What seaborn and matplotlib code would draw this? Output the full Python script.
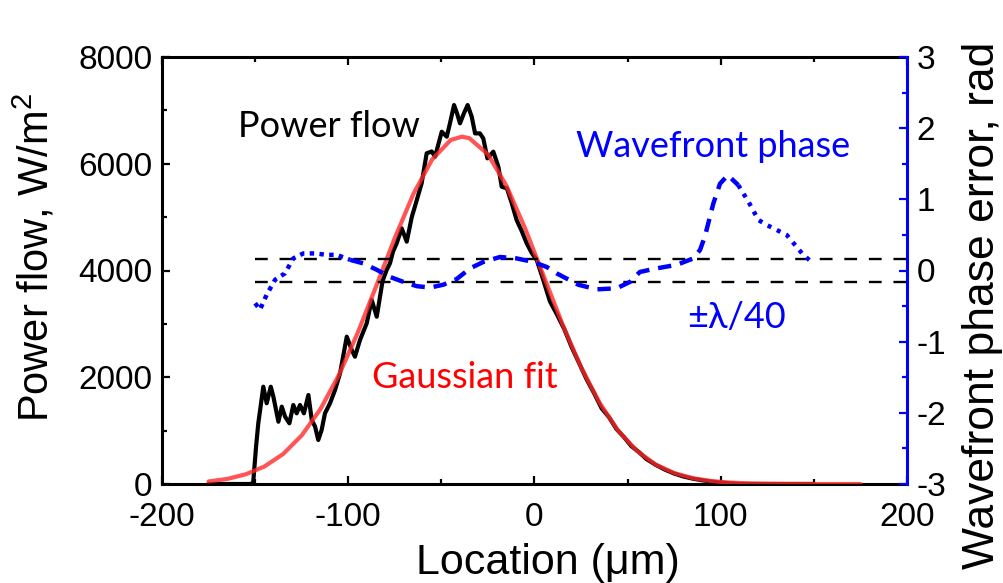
import numpy as np
import pandas as pd
import matplotlib
matplotlib.use("Agg")
import matplotlib.pyplot as plt
from matplotlib.ticker import MultipleLocator
import seaborn as sns

# ---------------- data ----------------
power_x = [-175, -160, -152, -151, -149.5, -148.3, -145.6, -143.8, -141.6, -140.2,
           -137.5, -135.7, -133.9, -131.6, -129.5, -127.7, -125.9, -123.8, -121.4,
           -119.6, -117.8, -116.1, -114.3, -112.5, -109.8, -107.1, -104.4, -100.8,
           -98.1, -96.4, -93.7, -90.1, -87.4, -84.7, -81.6, -79.4, -77.6, -76, -74,
           -71.3, -68.6, -65.9, -63.2, -60.6, -57.9, -55.2, -53.4, -49.8, -47.1,
           -45.4, -43.2, -41.6, -40, -37.9, -35.9, -33.7, -31.9, -29.3, -27.5,
           -25.3, -22.1, -19.4, -17.6, -14.8, -12.2, -9.6, -7, -4.2, -1.5, 1.2, 4,
           8.3, 12, 16, 20, 24, 28, 32, 36, 40, 44, 48, 52, 56, 60, 65, 70, 75, 80,
           85, 90, 95, 100, 110, 150]
power_y = [0, 0, 0, 40, 700, 1137, 1823, 1512, 1823, 1636,
           1167, 1449, 1261, 1137, 1480, 1324, 1480, 1324, 1667,
           1199, 1074, 824, 1011, 1324, 1512, 1761, 2074, 2760,
           2510, 2385, 2698, 3010, 3447, 3134, 3800, 4009, 4134, 4350, 4509,
           4790, 4540, 5000, 5320, 5633, 6195, 6230, 6132, 6600, 6507,
           6757, 7100, 6944, 6757, 6944, 7100, 6881, 6569, 6569, 6475,
           6101, 6226, 5944, 5570, 5538, 5258, 4946, 4750, 4510, 4330, 4196, 3900,
           3420, 3180, 2900, 2560, 2260, 1960, 1700, 1420, 1250, 1030, 880, 710, 600,
           470, 360, 270, 195, 140, 100, 70, 45, 25, 0, 0]

fit_x = [-175, -165, -155, -145, -135, -125, -115, -105, -95, -85, -75, -65, -55,
         -45, -39, -35, -25, -15, -5, 5, 15, 25, 35, 45, 55, 65, 75, 85, 95, 105,
         115, 125, 135, 145, 155, 165, 175]
fit_y = [48, 95, 182, 328, 561, 910, 1400, 2043, 2826, 3706, 4610, 5436, 6078,
         6445, 6507, 6479, 6177, 5583, 4785, 3889, 2996, 2189, 1517, 996, 621, 366,
         205, 109, 55, 26, 12, 5, 2, 1, 0, 0, 0]

phase_x = [-150, -147.4, -143.8, -139.3, -134, -129.5, -124.1, -117.8, -111.6, -106.2,
           -99, -91.9, -84.7, -77.6, -70.4, -63.2, -56.1, -49, -41.8, -34.6, -27.5,
           -18.5, -9.6, -0.6, 6.5, 11.9, 23.5, 33.4, 44.1, 51.3, 56.6, 65.6, 76.4,
           85.3, 88.9, 91.5, 96, 99.6, 103.8, 109.4, 114.8, 120.2, 124.7, 130, 135.4,
           140.8, 144.3, 148.8]
phase_y = [-0.46, -0.55, -0.34, -0.13, -0.04, 0.17, 0.24, 0.24, 0.22, 0.22,
           0.15, 0.10, 0.01, -0.09, -0.16, -0.22, -0.24, -0.20, -0.12, 0.03, 0.12,
           0.19, 0.17, 0.12, 0.05, -0.04, -0.20, -0.265, -0.25, -0.16, -0.02, 0.03, 0.08,
           0.17, 0.29, 0.48, 0.94, 1.22, 1.34, 1.20, 0.97, 0.71, 0.64, 0.57, 0.50,
           0.33, 0.22, 0.12]

tolerance_levels = [0.157, -0.157]     # +/- lambda/40 in rad
tolerance_span = [-150, 200]

x_ticks = [-200, -100, 0, 100, 200]
left_ticks = [0, 2000, 4000, 6000, 8000]
right_ticks = [-3, -2, -1, 0, 1, 2, 3]

# ---------------- style ----------------
sns.set_style("white")
plt.rcParams["font.family"] = ["Liberation Sans", "DejaVu Sans"]
plt.rcParams["mathtext.fontset"] = "custom"
plt.rcParams["mathtext.rm"] = "Liberation Sans"
plt.rcParams["mathtext.it"] = "Liberation Sans"
plt.rcParams["axes.unicode_minus"] = False
plt.rcParams["text.color"] = "black"
plt.rcParams["axes.labelcolor"] = "black"
plt.rcParams["xtick.color"] = "black"
plt.rcParams["ytick.color"] = "black"

fig = plt.figure(figsize=(10.04, 5.83), dpi=100)
ax = fig.add_axes([162 / 1004, 1 - 484 / 583, 745 / 1004, 427 / 583])
ax2 = ax.twinx()

BLUE = "#0000ff"

# power flow and fit
sns.lineplot(x=power_x, y=power_y, ax=ax, color="black", lw=3.0,
             estimator=None, sort=False, zorder=3)
sns.lineplot(x=fit_x, y=fit_y, ax=ax, color="#ff2a2a", lw=3.0, alpha=0.8,
             estimator=None, sort=False, zorder=4)

# tolerance lines (right axis units)
for lev in tolerance_levels:
    sns.lineplot(x=tolerance_span, y=[lev, lev], ax=ax2, color="black", lw=1.7,
                 linestyle=(0, (5.4, 5.0)), estimator=None, sort=False, zorder=2)

# wavefront phase: drawn with dash styles varying along the curve
px = np.array(phase_x)
py = np.array(phase_y)
segs = [(px <= -99, (0, (1.0, 1.2))),
        ((px >= -99) & (px <= 109.4), (0, (3.0, 2.0))),
        (px >= 109.4, (0, (0.9, 1.4)))]
for m, ls in segs:
    sns.lineplot(x=px[m], y=py[m], ax=ax2, color=BLUE, lw=3.2, linestyle=ls,
                 estimator=None, sort=False, zorder=3)

# ---------------- axes ----------------
ax.set_xlim(-200, 200)
ax.set_ylim(0, 8000)
ax2.set_ylim(-3, 3)
ax.set_xticks(x_ticks)
ax.set_yticks(left_ticks)
ax2.set_yticks(right_ticks)
ax.xaxis.set_minor_locator(MultipleLocator(50))
ax.yaxis.set_minor_locator(MultipleLocator(1000))
ax2.yaxis.set_minor_locator(MultipleLocator(0.5))

ax.tick_params(axis="both", which="both", direction="in", labelsize=24,
               width=1.6, colors="black")
ax.tick_params(axis="x", which="both", top=True, bottom=True)
ax.tick_params(axis="y", which="both", left=True, right=False)
ax.tick_params(which="major", length=6)
ax.tick_params(which="minor", length=3.5)
ax.tick_params(axis="y", pad=7)
ax.tick_params(axis="x", pad=13)
ax2.tick_params(axis="y", which="both", direction="in", color=BLUE, labelcolor="black",
                labelsize=24, width=1.6, pad=7)
ax2.tick_params(axis="y", which="major", length=6)
ax2.tick_params(axis="y", which="minor", length=3.5)

for s in ["left", "top", "bottom"]:
    ax.spines[s].set_linewidth(2.2)
    ax.spines[s].set_color("black")
ax.spines["right"].set_visible(False)
for s in ["left", "top", "bottom"]:
    ax2.spines[s].set_visible(False)
ax2.spines["right"].set_color(BLUE)
ax2.spines["right"].set_linewidth(2.2)

ax.set_xlabel("Location (μm)", fontsize=31, color="black")
ax.set_ylabel("Power flow, W/m$^{2}$", fontsize=30, color="black")
ax2.set_ylabel("Wavefront phase error, rad", fontsize=32, color="black")
ax.xaxis.set_label_coords((548 - 162) / 745, (484 - 543) / 427)
ax.yaxis.set_label_coords((58 - 162) / 745, (484 - 257) / 427)
ax2.yaxis.set_label_coords((962 - 162) / 745, (484 - 305) / 427)
ax.grid(False)
ax2.grid(False)

# ---------------- annotations ----------------
ann_font = ["Lato", "DejaVu Sans"]
ax.text(-110.3, 6500, "Power flow", color="black", fontsize=26, family=ann_font,
        ha="center", va="baseline")
ax.text(95.8, 6126, "Wavefront phase", color=BLUE, fontsize=26, family=ann_font,
        ha="center", va="baseline")
ax.text(108.2, 2922, "±λ/40", color=BLUE, fontsize=26, family=ann_font,
        ha="center", va="baseline")
ax.text(-37.3, 1798, "Gaussian fit", color="red", fontsize=26, family=ann_font,
        ha="center", va="baseline")

fig.savefig("out.png", dpi=100)
